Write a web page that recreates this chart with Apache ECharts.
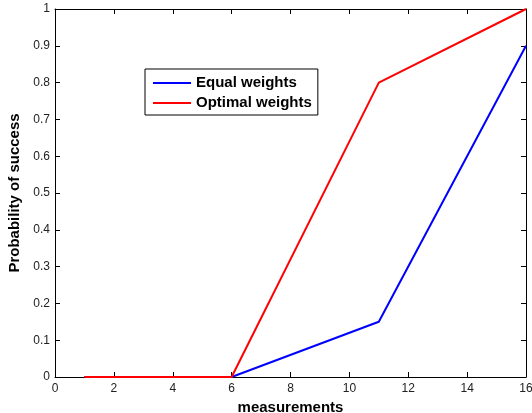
<!DOCTYPE html>
<html>
<head>
<meta charset="utf-8">
<script src="https://cdn.jsdelivr.net/npm/echarts@6/dist/echarts.min.js"></script>
<style>
html,body{margin:0;padding:0;background:#fff;overflow:hidden;width:532px;height:413px;}
#chart{width:532px;height:413px;position:absolute;left:0;top:0;}
</style>
</head>
<body>
<div id="chart"></div>
<script>
var measurements = [1, 6, 11, 16];
var equalWeights = [0, 0, 0.15, 0.9];
var optimalWeights = [0, 0, 0.8, 1.0];
var seriesNames = ['Equal weights', 'Optimal weights'];
var xTitle = 'measurements';
var yTitle = 'Probability of success';

var FONT = '"Liberation Sans", Arial, sans-serif';
var chart = echarts.init(document.getElementById('chart'), null, {renderer: 'canvas', width: 532, height: 413});

function pairs(xs, ys) { return xs.map(function (x, i) { return [x, ys[i]]; }); }

var axisLine = {show: true, onZero: false, lineStyle: {color: '#000', width: 1}};
var tick = {show: true, inside: true, length: 5, lineStyle: {color: '#000', width: 1}};

chart.setOption({
  animation: false,
  backgroundColor: '#fff',
  grid: {left: 55, right: 6, top: 9, bottom: 36, containLabel: false, outerBoundsMode: 'none'},
  legend: {
    orient: 'vertical',
    left: 145, top: 69,
    data: seriesNames,
    icon: 'rect',
    itemWidth: 38, itemHeight: 2, itemGap: 4,
    padding: [6, 6, 4, 8],
    borderColor: '#000', borderWidth: 1, borderRadius: 0,
    backgroundColor: '#fff',
    textStyle: {fontFamily: FONT, fontSize: 15, fontWeight: 'bold', color: '#000', lineHeight: 16}
  },
  xAxis: [{
    type: 'value', min: 0, max: 16, interval: 2, position: 'bottom',
    axisLine: axisLine, axisTick: tick, splitLine: {show: false},
    axisLabel: {fontFamily: FONT, fontSize: 12, color: '#222', margin: 6},
    name: xTitle, nameLocation: 'middle', nameGap: 22,
    nameTextStyle: {fontFamily: FONT, fontSize: 15, fontWeight: 'bold', color: '#000'}
  }, {
    type: 'value', min: 0, max: 16, interval: 2, position: 'top',
    axisLine: axisLine, axisTick: tick, splitLine: {show: false},
    axisLabel: {show: false}
  }],
  yAxis: [{
    type: 'value', min: 0, max: 1, interval: 0.1, position: 'left',
    axisLine: axisLine, axisTick: tick, splitLine: {show: false},
    axisLabel: {fontFamily: FONT, fontSize: 12, color: '#222', margin: 5},
    name: yTitle, nameLocation: 'middle', nameGap: 25, nameRotate: 90,
    nameTextStyle: {fontFamily: FONT, fontSize: 15, fontWeight: 'bold', color: '#000'}
  }, {
    type: 'value', min: 0, max: 1, interval: 0.1, position: 'right',
    axisLine: axisLine, axisTick: tick, splitLine: {show: false},
    axisLabel: {show: false}
  }],
  series: [{
    name: seriesNames[0], type: 'line', xAxisIndex: 0, yAxisIndex: 0,
    data: pairs(measurements, equalWeights),
    symbol: 'none', lineStyle: {color: '#0000ff', width: 2}, itemStyle: {color: '#0000ff'}
  }, {
    name: seriesNames[1], type: 'line', xAxisIndex: 0, yAxisIndex: 0,
    data: pairs(measurements, optimalWeights),
    symbol: 'none', lineStyle: {color: '#ff0000', width: 2}, itemStyle: {color: '#ff0000'}
  }]
});
</script>
</body>
</html>
